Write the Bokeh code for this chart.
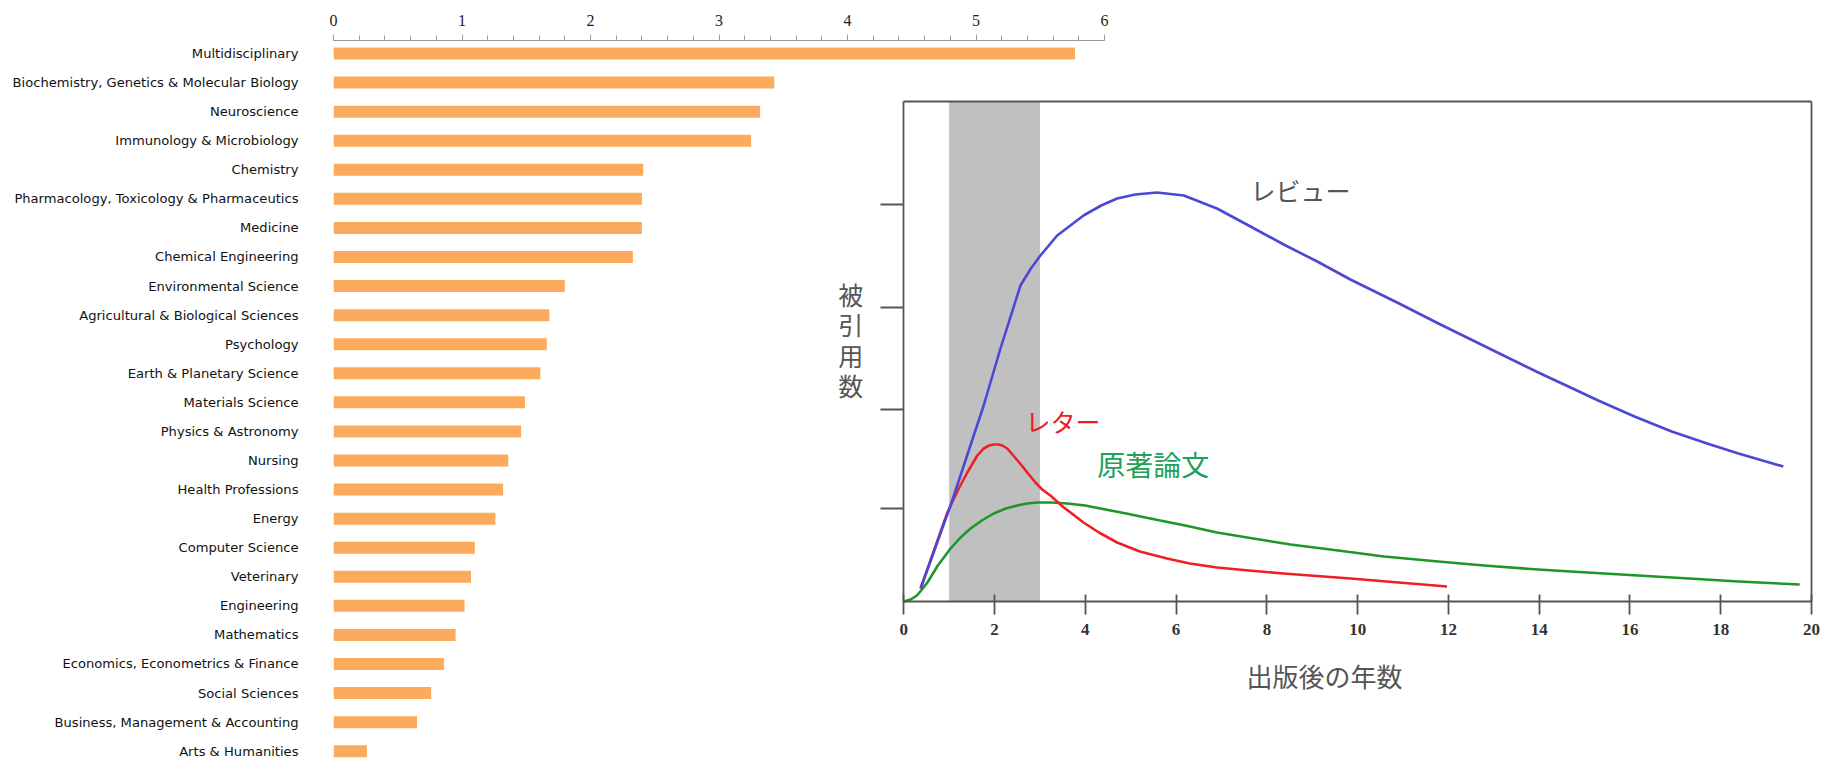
from bokeh.plotting import figure
from bokeh.models import Range1d, LinearAxis, FixedTicker, SingleIntervalTicker, Label
from bokeh.embed import file_html
from bokeh.resources import INLINE

# ---------------- data: bar chart ----------------
categories = [
    "Multidisciplinary",
    "Biochemistry, Genetics & Molecular Biology",
    "Neuroscience",
    "Immunology & Microbiology",
    "Chemistry",
    "Pharmacology, Toxicology & Pharmaceutics",
    "Medicine",
    "Chemical Engineering",
    "Environmental Science",
    "Agricultural & Biological Sciences",
    "Psychology",
    "Earth & Planetary Science",
    "Materials Science",
    "Physics & Astronomy",
    "Nursing",
    "Health Professions",
    "Energy",
    "Computer Science",
    "Veterinary",
    "Engineering",
    "Mathematics",
    "Economics, Econometrics & Finance",
    "Social Sciences",
    "Business, Management & Accounting",
    "Arts & Humanities",
]
values = [5.77, 3.43, 3.32, 3.25, 2.41, 2.40, 2.40, 2.33, 1.80, 1.68, 1.66, 1.61,
          1.49, 1.46, 1.36, 1.32, 1.26, 1.10, 1.07, 1.02, 0.95, 0.86, 0.76, 0.65, 0.26]
value_axis_max = 6

# ---------------- data: citation curves ----------------
review_x = [0.37, 1.03, 1.76, 2.13, 2.57, 2.80, 3.01, 3.38, 3.96, 4.35, 4.70, 5.10, 5.58,
            6.17, 6.90, 7.64, 8.37, 9.11, 9.84, 10.87, 11.78, 12.90, 13.98, 14.69, 15.30,
            16.10, 16.92, 17.70, 18.39, 19.38]
review_y = [0.13, 0.96, 1.96, 2.53, 3.16, 3.33, 3.46, 3.66, 3.86, 3.96, 4.03, 4.07, 4.09,
            4.06, 3.93, 3.75, 3.57, 3.40, 3.22, 2.99, 2.78, 2.53, 2.29, 2.14, 2.01,
            1.85, 1.70, 1.58, 1.48, 1.35]

letter_x = [0.37, 0.96, 1.20, 1.40, 1.62, 1.76, 1.88, 1.98, 2.08, 2.17, 2.28, 2.45, 2.60,
            2.72, 2.90, 3.05, 3.23, 3.50, 3.96, 4.30, 4.70, 5.20, 5.80, 6.30, 6.90, 7.60,
            8.37, 9.10, 9.84, 10.90, 11.97]
letter_y = [0.13, 0.89, 1.12, 1.29, 1.46, 1.53, 1.56, 1.57, 1.57, 1.56, 1.53, 1.44, 1.36,
            1.29, 1.19, 1.12, 1.06, 0.95, 0.79, 0.69, 0.59, 0.50, 0.43, 0.38, 0.34, 0.31,
            0.28, 0.255, 0.23, 0.19, 0.15]

original_x = [0.0, 0.15, 0.29, 0.40, 0.52, 0.75, 1.03, 1.25, 1.47, 1.72, 1.98, 2.25, 2.50,
              2.72, 2.94, 3.25, 3.60, 4.00, 4.33, 4.90, 5.43, 6.20, 6.90, 7.70, 8.52, 9.57,
              10.58, 11.78, 12.78, 13.98, 14.69, 16.18, 17.30, 18.39, 19.74]
original_y = [0.0, 0.02, 0.06, 0.12, 0.19, 0.36, 0.53, 0.64, 0.73, 0.81, 0.88, 0.93, 0.96,
              0.98, 0.99, 0.99, 0.98, 0.96, 0.93, 0.88, 0.83, 0.76, 0.69, 0.63, 0.57, 0.51,
              0.45, 0.40, 0.36, 0.32, 0.30, 0.26, 0.23, 0.20, 0.17]

highlight_years = [1, 3]
year_ticks = [0, 2, 4, 6, 8, 10, 12, 14, 16, 18, 20]
citation_ticks = [0.93, 1.92, 2.94, 3.97]
years_max = 20
citation_max = 5

# ---------------- figure ----------------
W, H = 1836, 758
ML, MR, MT, MB = 333, 10, 40, 0
frame_w = W - ML - MR
px_per_value = 128.5
bar_step = 29.07

p = figure(width=W, height=H, output_backend="svg", toolbar_location=None, tools="",
           x_range=Range1d(0, frame_w / px_per_value),
           y_range=Range1d(24 + 7.3 / bar_step, -13 / bar_step),
           x_axis_location=None, y_axis_location=None,
           min_border_left=ML, min_border_right=MR, min_border_top=MT, min_border_bottom=MB)
p.outline_line_color = None
p.background_fill_color = "white"
p.border_fill_color = "white"
p.xgrid.grid_line_color = None
p.ygrid.grid_line_color = None
p.xgrid.visible = False
p.ygrid.visible = False

# right chart ranges: year 0 -> x=903, year 20 -> x=1811; citations 0 -> y=601, 5 -> y=101
px_per_year = (1811 - 903.3) / 20
p.extra_x_ranges = {"yrs": Range1d((ML - 903.3) / px_per_year, (W - MR - 903.3) / px_per_year)}
p.extra_y_ranges = {"cit": Range1d((601 - (H - MB)) / 100, (601 - MT) / 100)}

# bars
p.hbar(y=list(range(len(categories))), left=0, right=values, height=12 / bar_step,
       fill_color="#fcaa5c", line_color=None)

ax_cat = LinearAxis(ticker=FixedTicker(ticks=list(range(len(categories)))),
                    major_label_overrides={i: c for i, c in enumerate(categories)},
                    axis_line_color=None, major_tick_line_color=None, minor_tick_line_color=None,
                    major_tick_out=0, major_tick_in=0, minor_tick_out=0, minor_tick_in=0,
                    major_label_standoff=35,
                    major_label_text_font="DejaVu Sans", major_label_text_font_size="13.1px",
                    major_label_text_color="#111111")
p.add_layout(ax_cat, "left")

ax_val = LinearAxis(ticker=SingleIntervalTicker(interval=1, num_minor_ticks=5),
                    bounds=(0, value_axis_max),
                    axis_line_color="#9a9a9a", major_tick_line_color="#9a9a9a",
                    minor_tick_line_color="#9a9a9a",
                    major_tick_out=6, major_tick_in=0, minor_tick_out=5, minor_tick_in=0,
                    major_label_standoff=9,
                    major_label_text_font="Liberation Serif", major_label_text_font_size="16px",
                    major_label_text_color="#222222")
p.add_layout(ax_val, "above")

# right chart: highlighted band
p.quad(left=[highlight_years[0]], right=[highlight_years[1]], bottom=[0], top=[citation_max],
       x_range_name="yrs", y_range_name="cit", fill_color="#c0c0c0", line_color=None)

p.line(original_x, original_y, x_range_name="yrs", y_range_name="cit",
       line_color="#1e9628", line_width=2.6, line_join="round")
p.line(letter_x, letter_y, x_range_name="yrs", y_range_name="cit",
       line_color="#ef1f26", line_width=2.6, line_join="round")
p.line(review_x, review_y, x_range_name="yrs", y_range_name="cit",
       line_color="#4b48d6", line_width=2.6, line_join="round")

frame_col = "#555555"
ax_x = LinearAxis(x_range_name="yrs", y_range_name="cit", fixed_location=0,
                  bounds=(0, years_max), ticker=FixedTicker(ticks=year_ticks),
                  axis_line_color=frame_col, axis_line_width=1.8,
                  major_tick_line_color=frame_col, major_tick_line_width=1.8,
                  major_tick_in=7, major_tick_out=13,
                  minor_tick_line_color=None,
                  major_label_standoff=9,
                  major_label_text_font="Liberation Serif", major_label_text_font_style="bold",
                  major_label_text_font_size="17px", major_label_text_color="#333333")
p.add_layout(ax_x, "below")

ax_y = LinearAxis(x_range_name="yrs", y_range_name="cit", fixed_location=0,
                  bounds=(0, citation_max), ticker=FixedTicker(ticks=citation_ticks),
                  axis_line_color=frame_col, axis_line_width=1.8,
                  major_tick_line_color=frame_col, major_tick_line_width=1.8,
                  major_tick_in=0, major_tick_out=23,
                  minor_tick_line_color=None, major_label_text_color=None)
p.add_layout(ax_y, "left")

ax_top = LinearAxis(x_range_name="yrs", y_range_name="cit", fixed_location=citation_max,
                    bounds=(0, years_max), ticker=FixedTicker(ticks=[]),
                    axis_line_color=frame_col, axis_line_width=1.8,
                    major_tick_line_color=None, minor_tick_line_color=None,
                    major_label_text_color=None)
p.add_layout(ax_top, "above")

ax_right = LinearAxis(x_range_name="yrs", y_range_name="cit", fixed_location=years_max,
                      bounds=(0, citation_max), ticker=FixedTicker(ticks=[]),
                      axis_line_color=frame_col, axis_line_width=1.8,
                      major_tick_line_color=None, minor_tick_line_color=None,
                      major_label_text_color=None)
p.add_layout(ax_right, "right")

jp = "Noto Sans CJK JP"
p.add_layout(Label(x=7.64, y=4.12, text="レビュー", x_range_name="yrs", y_range_name="cit",
                   text_font=jp, text_font_size="25px", text_color="#555555",
                   text_align="left", text_baseline="middle"))
p.add_layout(Label(x=2.68, y=1.81, text="レター", x_range_name="yrs", y_range_name="cit",
                   text_font=jp, text_font_size="25px", text_color="#ec1c24",
                   text_align="left", text_baseline="middle"))
p.add_layout(Label(x=4.26, y=1.38, text="原著論文", x_range_name="yrs", y_range_name="cit",
                   text_font=jp, text_font_size="28px", text_color="#21a05a",
                   text_align="left", text_baseline="middle"))
p.add_layout(Label(x=-1.17, y=2.62, text="被\n引\n用\n数", x_range_name="yrs", y_range_name="cit",
                   text_font=jp, text_font_size="25px", text_color="#555555",
                   text_align="center", text_baseline="middle", text_line_height=0.84))
p.add_layout(Label(x=9.27, y=-0.74, text="出版後の年数", x_range_name="yrs", y_range_name="cit",
                   text_font=jp, text_font_size="26px", text_color="#555555",
                   text_align="center", text_baseline="middle"))

open("out.html", "w").write(file_html(p, INLINE))
